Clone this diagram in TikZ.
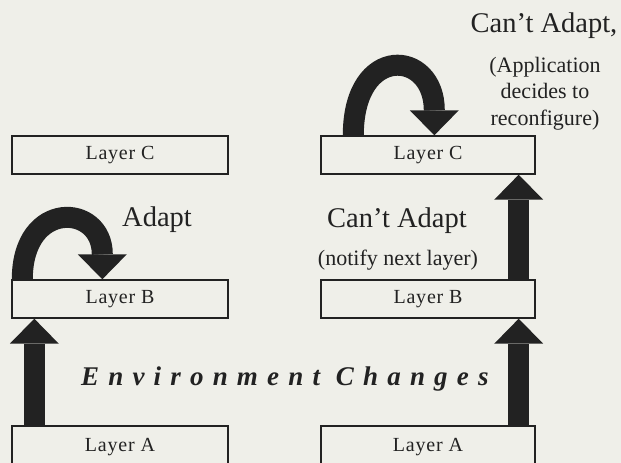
\documentclass[tikz,border=0pt]{standalone}
\usepackage{fontspec}
\setmainfont{Liberation Serif}
\newfontfamily\boxfont[LetterSpace=4]{Liberation Serif}
\newfontfamily\envfont[LetterSpace=34]{Liberation Serif}
\usetikzlibrary{arrows.meta,calc}
\definecolor{bg}{RGB}{239,239,233}
\definecolor{ink}{RGB}{34,34,34}
\tikzset{
  layerbox/.style={draw=ink, line width=1.4pt, fill=bg, minimum height=38pt, inner sep=0pt,
    font=\boxfont\fontsize{20}{22}\selectfont, text=ink},
  bigarrow/.style={draw=ink, line width=21pt,
    -{Triangle[width=49pt,length=25pt,line width=0pt]}},
  bigtext/.style={text=ink, font=\fontsize{28.5}{30}\selectfont, inner sep=0pt, anchor=base},
  smalltext/.style={text=ink, font=\fontsize{22}{26.5}\selectfont, inner sep=0pt, align=center},
}
\begin{document}
\begin{tikzpicture}[x=1pt,y=-1pt]
\fill[bg] (0,0) rectangle (621,463);
\useasboundingbox (0,0) rectangle (621,463);
% left column
\node[layerbox, minimum width=216pt] (lc) at (120,155) {Layer C};
\node[layerbox, minimum width=216pt] (lb) at (120,299) {Layer B};
\node[layerbox, minimum width=216pt, minimum height=42pt] (la) at (120,447) {\raisebox{4pt}{Layer A}};
% right column
\node[layerbox, minimum width=214pt] (rc) at (428,155) {Layer C};
\node[layerbox, minimum width=214pt] (rb) at (428,299) {Layer B};
\node[layerbox, minimum width=214pt, minimum height=42pt] (ra) at (428,447) {\raisebox{4pt}{Layer A}};
% straight arrows
\draw[bigarrow] ($(la.north west)+(23,0)$) -- ($(lb.south west)+(23,0)$);
\draw[bigarrow] ($(ra.north east)+(-17,0)$) -- ($(rb.south east)+(-17,0)$);
\draw[bigarrow] ($(rb.north east)+(-17,0)$) -- ($(rc.south east)+(-17,0)$);
% curved arrows
\draw[bigarrow] ($(lb.north west)+(11,0)$) .. controls +(0,-80) and +(0,-76) .. ($(lb.north west)+(91,0)$);
\draw[bigarrow] ($(rc.north west)+(33,0)$) .. controls +(0,-92) and +(0,-86) .. ($(rc.north west)+(114,0)$);
% texts
\node[bigtext] (adapt) at (157,226) {Adapt};
\node[bigtext] (cant1) at (397,227) {Can’t Adapt};
\node[smalltext, anchor=base] (notify) at (398,265) {(notify next layer)};
\node[bigtext] (cant2) at (544,32) {Can’t Adapt,};
\node[smalltext, anchor=base] (appl) at (545,125) {(Application\\decides to\\reconfigure)};
\node[text=ink, inner sep=0pt, anchor=base west, font=\envfont\bfseries\itshape\fontsize{27}{30}\selectfont] (env) at (81,385) {Environment Changes};
\end{tikzpicture}
\end{document}
